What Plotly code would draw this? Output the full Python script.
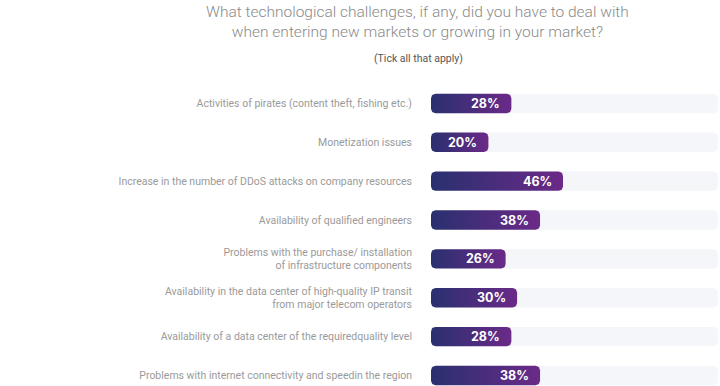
import numpy as np
import plotly.graph_objects as go

categories = [
    "Activities of pirates (content theft, fishing etc.)",
    "Monetization issues",
    "Increase in the number of DDoS attacks on company resources",
    "Availability of qualified engineers",
    "Problems with the purchase/ installation<br>of infrastructure components",
    "Availability in the data center of high-quality IP transit<br>from major telecom operators",
    "Availability of a data center of the requiredquality level",
    "Problems with internet connectivity and speedin the region",
]
values = [28, 20, 46, 38, 26, 30, 28, 38]
track_max = 100

title_lines = ["What technological challenges, if any, did you have to deal with",
               "when entering new markets or growing in your market?"]
subtitle = "(Tick all that apply)"

W, H = 720, 386
X0_PX = 431
PX_PER_UNIT = 2.87
ROW_PX = 38.86
TOP_PX = 84

half_h = 0.25
rx = 4.5 / PX_PER_UNIT
ry = 4.5 / ROW_PX


def rounded_rect(x0, x1, yc):
    y0, y1 = yc - half_h, yc + half_h
    xs, ys = [], []
    corners = [(x1 - rx, y0 + ry, -np.pi / 2, 0),
               (x1 - rx, y1 - ry, 0, np.pi / 2),
               (x0 + rx, y1 - ry, np.pi / 2, np.pi),
               (x0 + rx, y0 + ry, np.pi, 1.5 * np.pi)]
    for cx, cy, a0, a1 in corners:
        t = np.linspace(a0, a1, 8)
        xs.extend(cx + rx * np.cos(t))
        ys.extend(cy + ry * np.sin(t))
    xs.append(xs[0]); ys.append(ys[0])
    return xs, ys


fig = go.Figure()
ypos = list(range(len(categories)))

for i, v in enumerate(values):
    xs, ys = rounded_rect(0, track_max, ypos[i])
    fig.add_trace(go.Scatter(x=xs, y=ys, fill="toself", mode="lines",
                             line=dict(width=0), fillcolor="#f5f6f9",
                             hoverinfo="skip", showlegend=False))
for i, v in enumerate(values):
    xs, ys = rounded_rect(0, v, ypos[i])
    fig.add_trace(go.Scatter(x=xs, y=ys, fill="toself", mode="lines",
                             line=dict(width=0),
                             fillgradient=dict(type="horizontal",
                                               colorscale=[[0, "#29306f"], [1, "#6b2a88"]]),
                             hoverinfo="skip", showlegend=False))
    fig.add_annotation(x=v, y=ypos[i], text=f"<b>{v}%</b>", showarrow=False,
                       xanchor="right", yanchor="middle", xshift=-9,
                       font=dict(family="Inter", size=12.5, color="white"))

plot_h = H - TOP_PX
y_span = plot_h / ROW_PX
x_dom0 = X0_PX / W
x_range_max = (W - X0_PX) / PX_PER_UNIT

fig.update_layout(
    width=W, height=H,
    margin=dict(l=0, r=0, t=TOP_PX, b=0, autoexpand=False),
    plot_bgcolor="white", paper_bgcolor="white",
    xaxis=dict(domain=[x_dom0, 1], range=[0, x_range_max], visible=False,
               fixedrange=True, automargin=False),
    yaxis=dict(range=[y_span - 0.5, -0.5], tickvals=ypos, ticktext=categories,
               showgrid=False, zeroline=False, showline=False, ticks="",
               ticklabelstandoff=18, automargin=False, fixedrange=True,
               tickfont=dict(family="Roboto", size=10.5, color="#9a9a9a")),
    font=dict(family="Roboto"),
)

fig.add_annotation(xref="paper", yref="paper", x=417 / W, y=1 + (TOP_PX - 22) / plot_h,
                   text="<br>".join(title_lines), showarrow=False,
                   xanchor="center", yanchor="middle",
                   font=dict(family="Roboto", size=15.5, color="#8a8a8a", weight=300))
fig.add_annotation(xref="paper", yref="paper", x=418 / W, y=1 + (TOP_PX - 58) / plot_h,
                   text=subtitle, showarrow=False, xanchor="center", yanchor="middle",
                   font=dict(family="Roboto", size=10.5, color="#555555"))

fig.write_html("out.html", config={"displayModeBar": False},
               post_script="document.body.style.margin='0';document.body.style.overflow='hidden';")
